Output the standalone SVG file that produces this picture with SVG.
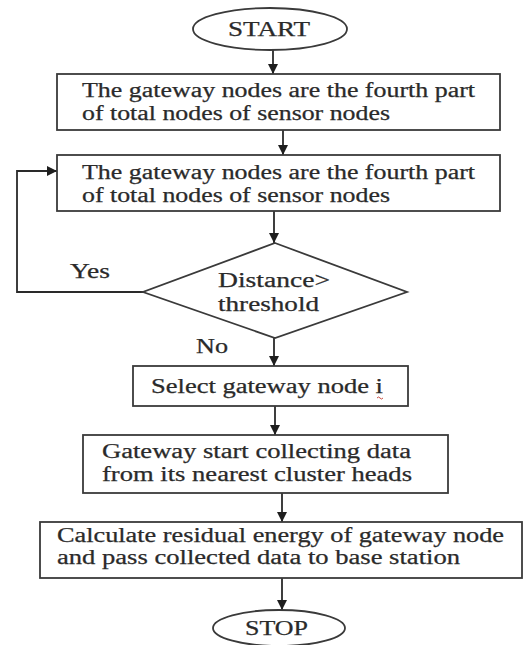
<svg xmlns="http://www.w3.org/2000/svg" width="524" height="645" viewBox="0 0 524 645">
  <defs>
    <marker id="arrow" viewBox="0 0 10 10" refX="10" refY="5" markerWidth="10" markerHeight="10" markerUnits="userSpaceOnUse" orient="auto">
      <path d="M0,0 L10,5 L0,10 Z" fill="#1e1e1e"/>
    </marker>
  </defs>
  <style>
    .shape { fill: #ffffff; stroke: #3a3a3a; stroke-width: 1.8; }
    .link { fill: none; stroke: #2a2a2a; stroke-width: 1.8; marker-end: url(#arrow); }
    text { font-family: "Liberation Serif", "DejaVu Serif", serif; font-size: 20px; fill: #2a2a2a; stroke: #2a2a2a; stroke-width: 0.25; }
  </style>
  <rect width="524" height="645" fill="#ffffff"/>

  <!-- connectors -->
  <g id="connectors">
    <line class="link" x1="273" y1="50" x2="273" y2="74"/>
    <line class="link" x1="283" y1="130" x2="283" y2="155"/>
    <line class="link" x1="274" y1="211" x2="274" y2="243"/>
    <line class="link" x1="274" y1="338" x2="274" y2="366"/>
    <line class="link" x1="275" y1="406" x2="275" y2="435"/>
    <line class="link" x1="282" y1="493" x2="282" y2="522"/>
    <line class="link" x1="282" y1="578" x2="282" y2="610"/>
    <!-- Yes branch loops back to the second box -->
    <polyline class="link" points="143,292 17,292 17,171 57,171"/>
    <text x="70" y="278" textLength="40" lengthAdjust="spacingAndGlyphs">Yes</text>
    <text x="196" y="353" textLength="32" lengthAdjust="spacingAndGlyphs">No</text>
  </g>

  <g id="start">
    <ellipse class="shape" cx="270" cy="29" rx="77" ry="21"/>
    <text x="228" y="36" textLength="82" lengthAdjust="spacingAndGlyphs">START</text>
  </g>

  <g id="step1">
    <rect class="shape" x="57" y="74" width="443" height="56"/>
    <text x="82" y="97" textLength="393" lengthAdjust="spacingAndGlyphs">The gateway nodes are the fourth part</text>
    <text x="82" y="120" textLength="308" lengthAdjust="spacingAndGlyphs">of total nodes of sensor nodes</text>
  </g>

  <g id="step2">
    <rect class="shape" x="57" y="155" width="443" height="56"/>
    <text x="82" y="179" textLength="393" lengthAdjust="spacingAndGlyphs">The gateway nodes are the fourth part</text>
    <text x="82" y="202" textLength="308" lengthAdjust="spacingAndGlyphs">of total nodes of sensor nodes</text>
  </g>

  <g id="decision">
    <polygon class="shape" points="275,243 407,292 275,338 143,292"/>
    <text x="218" y="287" textLength="112" lengthAdjust="spacingAndGlyphs">Distance&gt;</text>
    <text x="218" y="311" textLength="101" lengthAdjust="spacingAndGlyphs">threshold</text>
  </g>

  <g id="select">
    <rect class="shape" x="133" y="366" width="275" height="40"/>
    <text x="151" y="393" textLength="232" lengthAdjust="spacingAndGlyphs">Select gateway node i</text>
    <path d="M377,398 q1.5,-2 3,0 t3,0" fill="none" stroke="#c0392b" stroke-width="0.9"/>
  </g>

  <g id="collect">
    <rect class="shape" x="83" y="435" width="365" height="58"/>
    <text x="102" y="458" textLength="309" lengthAdjust="spacingAndGlyphs">Gateway start collecting data</text>
    <text x="102" y="481" textLength="310" lengthAdjust="spacingAndGlyphs">from its nearest cluster heads</text>
  </g>

  <g id="calculate">
    <rect class="shape" x="40" y="522" width="482" height="56"/>
    <text x="57" y="542" textLength="447" lengthAdjust="spacingAndGlyphs">Calculate residual energy of gateway node</text>
    <text x="57" y="564" textLength="403" lengthAdjust="spacingAndGlyphs">and pass collected data to base station</text>
  </g>

  <g id="stop">
    <ellipse class="shape" cx="279" cy="628" rx="66" ry="18"/>
    <text x="245" y="635" textLength="63" lengthAdjust="spacingAndGlyphs">STOP</text>
  </g>
</svg>
